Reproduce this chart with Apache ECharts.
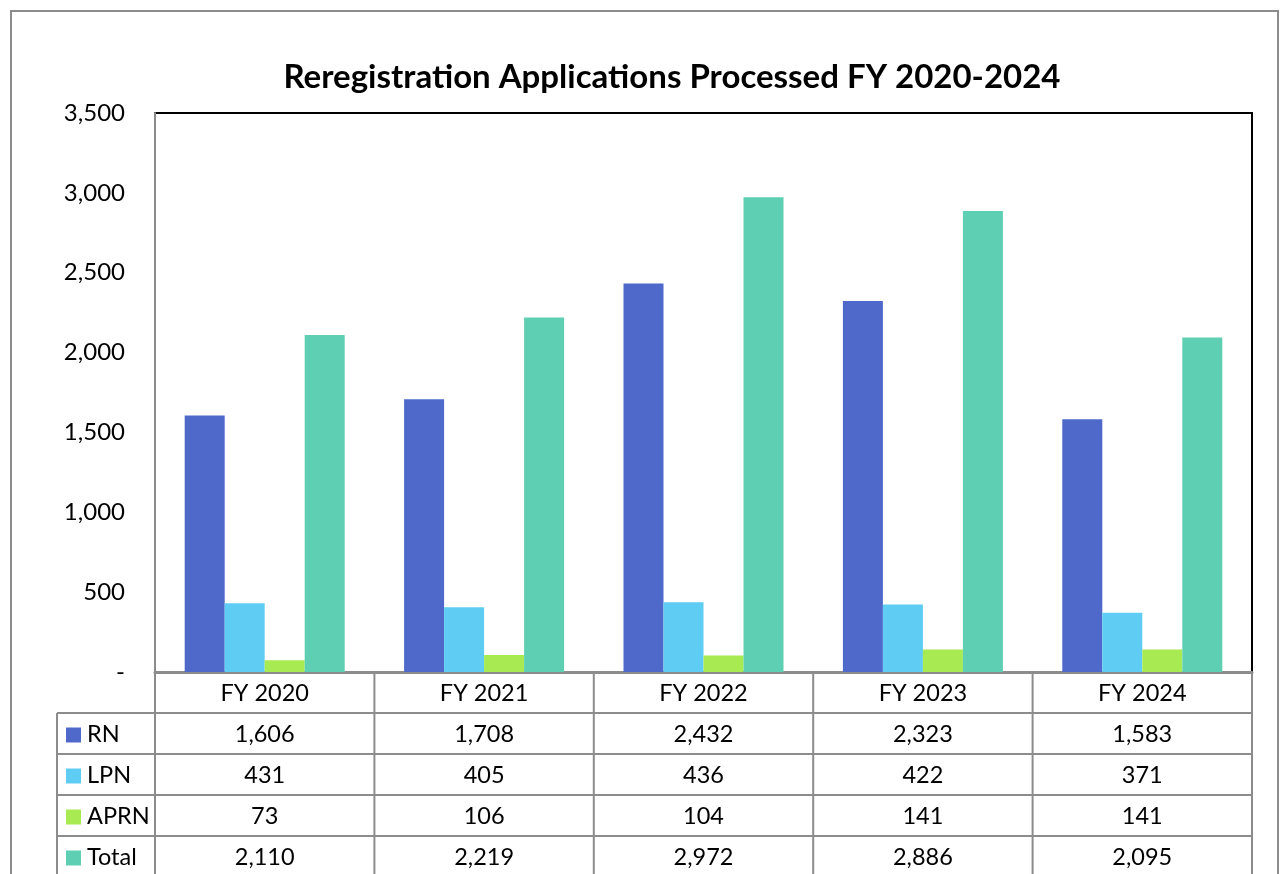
<!DOCTYPE html>
<html>
<head>
<meta charset="utf-8">
<script src="https://cdn.jsdelivr.net/npm/echarts@6/dist/echarts.min.js"></script>
<style>
  html, body { margin: 0; padding: 0; background: #fff; }
  #chart { width: 1280px; height: 874px; }
</style>
</head>
<body>
<div id="chart"></div>
<script>
// data
var categories = ['FY 2020', 'FY 2021', 'FY 2022', 'FY 2023', 'FY 2024']
var rnData = [1606, 1708, 2432, 2323, 1583]
var lpnData = [431, 405, 436, 422, 371]
var aprnData = [73, 106, 104, 141, 141]
var totalData = [2110, 2219, 2972, 2886, 2095]
var seriesNames = ['RN', 'LPN', 'APRN', 'Total']
var seriesColors = ['#4f69cb', '#5fcdf3', '#a8ea52', '#5ecfb2']

var FONT = 'Lato, "Open Sans", sans-serif'
var TABLE_FONT = '23.5px ' + FONT
// plot area
var G = { left: 155, top: 113, right: 1252, bottom: 672 }
var rowH = 41
var labelLeft = 57

var fmt = function(v) {
    return v === 0 ? '-' : v.toLocaleString('en-US')
}

var chart = echarts.init(document.getElementById('chart'))
var allData = [rnData, lpnData, aprnData, totalData]

// table under the plot
function buildTable() {
    var items = []
    var colW = (G.right - G.left) / categories.length
    var lineStyle = { stroke: '#8c8c8c', lineWidth: 2 }
    var bottomY = 874 + 5
    // outer frame
    items.push({ type: 'polyline', shape: { points: [[11, 880], [11, 11], [1278, 11], [1278, 880]] }, style: { stroke: '#8c8c8c', lineWidth: 2, fill: null }, z: 1 })
    // horizontal lines
    for (var r = 1; r <= seriesNames.length; r++) {
        var y = G.bottom + r * rowH
        items.push({ type: 'line', shape: { x1: labelLeft, y1: y, x2: G.right, y2: y }, style: lineStyle })
    }
    // vertical lines
    items.push({ type: 'line', shape: { x1: labelLeft, y1: G.bottom + rowH, x2: labelLeft, y2: bottomY }, style: lineStyle })
    for (var c = 0; c <= categories.length; c++) {
        var x = G.left + c * colW
        items.push({ type: 'line', shape: { x1: x, y1: G.bottom, x2: x, y2: bottomY }, style: lineStyle })
    }
    // header
    categories.forEach(function(cat, i) {
        items.push({
            type: 'text',
            style: { text: cat, x: G.left + (i + 0.5) * colW, y: G.bottom + rowH / 2 + 1, align: 'center', verticalAlign: 'middle', font: TABLE_FONT, fill: '#000' },
        })
    })
    // rows
    seriesNames.forEach(function(name, r) {
        var cy = G.bottom + (r + 1.5) * rowH + 1
        items.push({ type: 'rect', shape: { x: 66, y: cy - 7, width: 15, height: 15 }, style: { fill: seriesColors[r] } })
        items.push({ type: 'text', style: { text: name, x: 87, y: cy, verticalAlign: 'middle', font: TABLE_FONT, fill: '#000' } })
        allData[r].forEach(function(v, i) {
            items.push({
                type: 'text',
                style: { text: fmt(v), x: G.left + (i + 0.5) * colW, y: cy, align: 'center', verticalAlign: 'middle', font: TABLE_FONT, fill: '#000' },
            })
        })
    })
    return items
}

var option = {
    animation: false,
    backgroundColor: '#fff',
    title: {
        text: 'Reregistration Applications Processed FY 2020-2024',
        left: 667,
        textAlign: 'center',
        top: 56,
        textStyle: { fontFamily: FONT, fontSize: 33, fontWeight: 'bold', color: '#000' },
    },
    grid: {
        left: G.left,
        top: G.top,
        width: G.right - G.left,
        height: G.bottom - G.top,
        show: true,
        borderColor: '#000',
        borderWidth: 2,
    },
    xAxis: {
        type: 'category',
        data: categories,
        axisTick: { show: false },
        axisLabel: { show: false },
        axisLine: { lineStyle: { color: '#8c8c8c', width: 3 } },
    },
    yAxis: {
        type: 'value',
        min: 0,
        max: 3500,
        interval: 500,
        axisTick: { show: false },
        splitLine: { show: false },
        axisLine: { show: true, lineStyle: { color: '#8c8c8c', width: 2 } },
        axisLabel: {
            margin: 30,
            formatter: fmt,
            fontFamily: FONT,
            fontSize: 24,
            color: '#000',
        },
    },
    series: seriesNames.map(function(name, i) {
        return {
            name: name,
            type: 'bar',
            barWidth: 40,
            barGap: '0%',
            itemStyle: { color: seriesColors[i] },
            data: allData[i],
        }
    }),
    graphic: buildTable(),
}
chart.setOption(option)
</script>
</body>
</html>
